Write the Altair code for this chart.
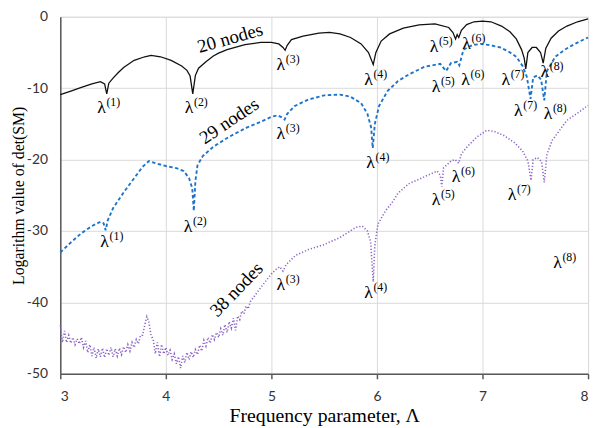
import altair as alt
import pandas as pd

# ---- 20 nodes (black solid) ----
x20 = [3.00, 3.10, 3.20, 3.30, 3.38, 3.42, 3.44, 3.46, 3.50, 3.55, 3.60, 3.70, 3.80, 3.86, 3.95,
       4.05, 4.15, 4.20, 4.23, 4.255, 4.28, 4.31, 4.38, 4.45, 4.50, 4.58, 4.75, 4.90, 5.00, 5.07, 5.11,
       5.13, 5.15, 5.19, 5.30, 5.45, 5.55, 5.65, 5.75, 5.85, 5.92, 5.965, 5.99, 6.04, 6.12, 6.25,
       6.40, 6.55, 6.68, 6.72, 6.745, 6.76, 6.775, 6.80, 6.85, 6.92, 7.00, 7.08, 7.18, 7.26, 7.32,
       7.37, 7.395, 7.41, 7.43, 7.47, 7.51, 7.55, 7.575, 7.60, 7.65, 7.72, 7.80, 7.90, 8.00]
y20 = [-10.9, -10.4, -9.9, -9.4, -9.1, -9.4, -10.8, -9.3, -8.6, -7.8, -7.1, -6.1, -5.6, -5.4, -5.6,
       -6.1, -6.9, -7.5, -8.3, -10.8, -8.2, -7.2, -6.3, -5.5, -5.1, -4.6, -3.9, -3.6, -3.6, -3.8, -4.3,
       -4.7, -4.0, -3.2, -2.7, -2.3, -2.2, -2.4, -2.9, -3.8, -5.0, -6.7, -5.0, -3.4, -2.4, -1.6,
       -1.15, -1.0, -1.5, -2.2, -3.1, -2.5, -2.9, -1.9, -1.1, -0.7, -0.6, -0.7, -1.3, -2.1, -3.1,
       -4.6, -5.8, -7.3, -5.0, -4.3, -4.3, -5.0, -6.5, -4.4, -3.0, -2.0, -1.3, -0.7, -0.3]

# ---- 29 nodes (blue dashed) ----
x29 = [3.00, 3.10, 3.20, 3.30, 3.38, 3.41, 3.43, 3.45, 3.50, 3.60, 3.70, 3.78, 3.84, 3.90, 4.00,
       4.10, 4.17, 4.22, 4.25, 4.265, 4.28, 4.30, 4.35, 4.45, 4.60, 4.77, 4.90, 5.00, 5.06, 5.10,
       5.125, 5.15, 5.22, 5.35, 5.50, 5.65, 5.75, 5.85, 5.91, 5.945, 5.96, 5.98, 6.02, 6.10, 6.20,
       6.30, 6.45, 6.60, 6.655, 6.70, 6.76, 6.78, 6.82, 6.90, 6.98, 7.08, 7.17, 7.25, 7.32, 7.38,
       7.42, 7.455, 7.48, 7.52, 7.555, 7.585, 7.61, 7.69, 7.78, 7.85, 7.93, 8.00]
y29 = [-33.0, -31.6, -30.3, -29.3, -28.7, -28.9, -29.9, -28.5, -26.8, -24.6, -22.6, -21.0, -20.2, -20.5, -20.9,
       -21.2, -21.6, -22.6, -24.0, -27.2, -23.0, -20.8, -19.5, -18.2, -16.8, -15.5, -14.7, -14.0, -13.8, -14.1,
       -14.4, -13.6, -12.5, -11.6, -11.0, -10.9, -11.2, -12.1, -13.6, -15.5, -18.4, -15.0, -12.5, -10.4, -9.0,
       -8.1, -7.0, -6.6, -7.6, -6.5, -6.3, -6.8, -4.6, -4.0, -3.8, -4.0, -4.3, -4.9, -5.6, -6.9,
       -8.4, -11.5, -8.5, -8.2, -8.8, -11.7, -7.6, -5.6, -4.6, -4.0, -3.4, -2.9]

# ---- 38 nodes (purple dotted) ----
x38 = [3.00, 3.02, 3.04, 3.06, 3.08, 3.10, 3.12, 3.14, 3.16, 3.18, 3.20, 3.22, 3.24, 3.26, 3.28,
       3.30, 3.32, 3.34, 3.36, 3.38, 3.40, 3.42, 3.44, 3.46, 3.48, 3.50, 3.52, 3.54, 3.56, 3.58,
       3.60, 3.62, 3.64, 3.66, 3.68, 3.70, 3.72, 3.74, 3.76, 3.78, 3.80, 3.82, 3.84, 3.86, 3.88,
       3.90, 3.92, 3.94, 3.96, 3.98, 4.00, 4.02, 4.04, 4.06, 4.08, 4.10, 4.12, 4.14, 4.16, 4.18,
       4.20, 4.22, 4.24, 4.26, 4.28, 4.30, 4.32, 4.34, 4.36, 4.38, 4.40, 4.42, 4.44, 4.46, 4.48,
       4.50, 4.52, 4.54, 4.56, 4.58, 4.60, 4.62, 4.64, 4.66, 4.68, 4.70, 4.72, 4.74, 4.76, 4.78,
       4.80, 4.90, 5.00, 5.05, 5.08, 5.11, 5.14, 5.23, 5.35, 5.50, 5.65, 5.80, 5.86, 5.91, 5.94,
       5.965, 5.98, 6.01, 6.08, 6.14, 6.20, 6.30, 6.45, 6.57, 6.60, 6.615, 6.63, 6.70, 6.74, 6.775,
       6.80, 6.86, 6.95, 7.04, 7.12, 7.20, 7.30, 7.38, 7.43, 7.46, 7.48, 7.52, 7.56, 7.585, 7.61,
       7.66, 7.73, 7.80, 7.90, 8.00]
y38 = [-43.2, -45.6, -44.0, -45.6, -44.6, -45.7, -44.9, -45.9, -45.1, -45.8, -44.9, -46.3, -45.4, -47.0, -45.9,
       -47.5, -46.3, -47.8, -46.5, -47.6, -46.4, -47.7, -46.5, -47.4, -46.3, -47.6, -46.5, -47.5, -46.4, -47.3,
       -46.2, -47.0, -45.9, -46.8, -45.6, -46.3, -45.2, -45.8, -44.6, -44.6, -43.2, -42.0, -42.8, -44.6, -45.2,
       -47.2, -45.6, -47.6, -45.9, -47.2, -46.3, -47.4, -46.7, -48.0, -47.2, -48.6, -47.6, -49.2, -47.5, -48.4,
       -47.0, -48.0, -46.9, -47.7, -46.6, -47.3, -46.0, -46.8, -45.3, -46.1, -44.9, -45.7, -44.5, -45.2, -44.2,
       -44.9, -43.7, -44.6, -43.1, -44.2, -42.7, -43.6, -42.2, -43.9, -41.9, -42.4, -41.2, -41.6, -40.5, -40.9,
       -39.9, -37.9, -36.0, -35.3, -35.0, -35.6, -34.7, -33.4, -32.6, -31.9, -30.9, -29.5, -29.3, -30.0, -31.5,
       -37.1, -32.0, -29.0, -27.2, -26.1, -24.7, -23.4, -22.4, -21.6, -22.2, -23.8, -21.2, -20.2, -20.0, -20.5,
       -19.2, -18.1, -16.8, -15.9, -16.1, -16.6, -17.6, -18.8, -20.2, -22.9, -20.0, -19.7, -20.3, -23.2, -19.3,
       -17.3, -15.9, -14.5, -13.5, -12.4]

# ---- eigenvalue labels ----
lam_x = [3.39, 4.22, 5.09, 5.92, 6.54, 6.85, 7.22, 7.59,
         3.42, 4.21, 5.09, 5.94, 6.56, 6.84, 7.34, 7.62,
         5.09, 5.92, 6.56, 6.75, 7.28, 7.71]
lam_y = [-12.8, -12.8, -6.7, -8.8, -4.2, -3.8, -8.8, -7.7,
         -31.5, -29.4, -16.4, -20.5, -9.9, -8.8, -13.2, -13.6,
         -37.5, -38.7, -25.6, -22.5, -24.9, -34.5]
lam_sup = ["(1)", "(2)", "(3)", "(4)", "(5)", "(6)", "(7)", "(8)",
           "(1)", "(2)", "(3)", "(4)", "(5)", "(6)", "(7)", "(8)",
           "(3)", "(4)", "(5)", "(6)", "(7)", "(8)"]

# ---- series names ----
node_text = ["20 nodes", "29 nodes", "38 nodes"]
node_x = [4.61, 4.60, 4.67]
node_y = [-3.0, -14.6, -38.2]
node_angle = [344, 326, 314]

x_ticks = [3, 4, 5, 6, 7, 8]
y_ticks = [-50, -40, -30, -20, -10, 0]

df20 = pd.DataFrame({"x": x20, "y": y20})
df29 = pd.DataFrame({"x": x29, "y": y29})
df38 = pd.DataFrame({"x": x38, "y": y38})
dlam = pd.DataFrame({"x": lam_x, "y": lam_y, "sup": lam_sup, "lam": ["λ"] * len(lam_x)})
dnode = pd.DataFrame({"x": node_x, "y": node_y, "t": node_text, "a": node_angle})

xsc = alt.Scale(domain=[3, 8], nice=False)
ysc = alt.Scale(domain=[-50, 0], nice=False)

xax = alt.Axis(values=x_ticks, format="d", title="Frequency parameter, Λ", grid=True, gridColor="#d9d9d9",
               domainColor="#595959", domainWidth=1.5, tickColor="#595959", tickSize=5, tickWidth=1.5,
               labelFont="Lato", labelFontSize=14, labelColor="#333333", labelPadding=11,
               titleFont="Liberation Serif", titleFontSize=20, titleFontWeight="normal",
               titleColor="#000000", titlePadding=2)
yax = alt.Axis(values=y_ticks, title="Logarithm value of  det(SM)", grid=True, gridColor="#d9d9d9",
               domainColor="#595959", domainWidth=1.5, ticks=False,
               labelFont="Lato", labelFontSize=14, labelColor="#333333", labelPadding=13,
               labelExpr="'' + datum.value",
               titleFont="Liberation Serif", titleFontSize=16, titleFontWeight="normal",
               titleColor="#000000", titleX=-34)

base_x = alt.X("x:Q", scale=xsc, axis=xax)
base_y = alt.Y("y:Q", scale=ysc, axis=yax)

l20 = alt.Chart(df20).mark_line(color="#111111", strokeWidth=1.3).encode(
    x=base_x, y=base_y, order="x:Q")
l29 = alt.Chart(df29).mark_line(color="#1f74c9", strokeWidth=1.9, strokeDash=[3.5, 2.5]).encode(
    x=alt.X("x:Q", scale=xsc), y=alt.Y("y:Q", scale=ysc), order="x:Q")
l38 = alt.Chart(df38).mark_line(color="#8a63c4", strokeWidth=1.6, strokeDash=[1.2, 2]).encode(
    x=alt.X("x:Q", scale=xsc), y=alt.Y("y:Q", scale=ysc), order="x:Q")

tlam = alt.Chart(dlam).mark_text(font="Liberation Serif", fontSize=18, color="#000000",
                                 align="center", baseline="middle").encode(
    x=alt.X("x:Q", scale=xsc), y=alt.Y("y:Q", scale=ysc), text="lam:N")
tsup = alt.Chart(dlam).mark_text(font="Liberation Serif", fontSize=12, color="#000000",
                                 align="left", baseline="middle", dx=5, dy=-6).encode(
    x=alt.X("x:Q", scale=xsc), y=alt.Y("y:Q", scale=ysc), text="sup:N")

layers = [l20, l29, l38, tlam, tsup]
for i in range(3):
    sub = dnode.iloc[[i]]
    layers.append(
        alt.Chart(sub).mark_text(font="Liberation Serif", fontSize=19, color="#000000",
                                 align="center", baseline="middle", angle=node_angle[i]).encode(
            x=alt.X("x:Q", scale=xsc), y=alt.Y("y:Q", scale=ysc), text="t:N")
    )

chart = alt.layer(*layers).properties(
    width=535, height=362,
    autosize=alt.AutoSizeParams(type="none"),
    padding={"left": 53, "top": 6, "right": 4, "bottom": 52},
).configure_view(strokeWidth=0).configure(background="#ffffff")

chart.save("out.html", embed_options={"renderer": "svg", "actions": False})
